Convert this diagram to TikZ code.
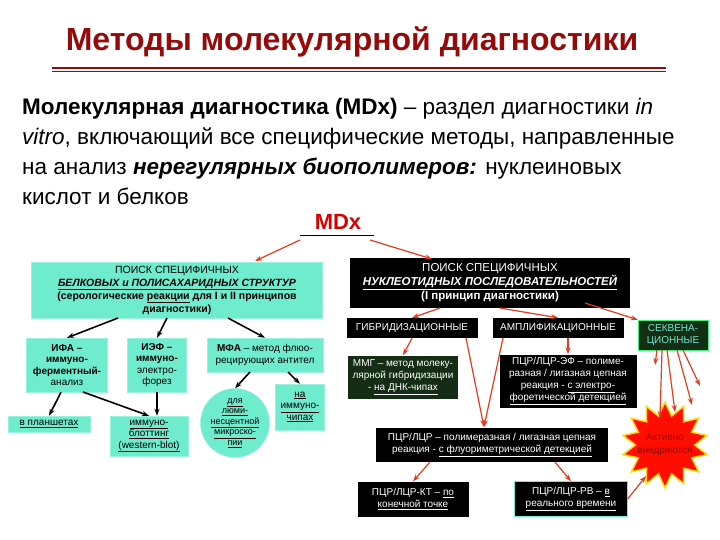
\documentclass[tikz,border=0pt]{standalone}
\usepackage{fontspec}
\setmainfont{Liberation Sans}
\usetikzlibrary{shapes.misc,shapes.geometric,arrows.meta}
\definecolor{aq}{RGB}{110,236,205}
\definecolor{dred}{RGB}{150,10,10}
\definecolor{ared}{RGB}{225,60,30}
\definecolor{dgreen}{RGB}{20,45,20}
\tikzset{
 cy/.style={fill=aq,draw=aq!70!white,align=center,inner sep=1pt,font=\fontsize{10}{11.5}\selectfont},
 bk/.style={fill=black,text=white,align=center,inner sep=1pt,font=\fontsize{10}{12}\selectfont},
 la/.style={-{Stealth[length=7pt,width=5pt]},line width=1.6pt,black},
 ra/.style={-{Stealth[length=7pt,width=5pt]},line width=1.2pt,ared},
}
\newcommand{\ul}[1]{\underline{#1}}
\begin{document}
\begin{tikzpicture}[x=1pt,y=-1pt]
\useasboundingbox[fill=white] (0,0) rectangle (720,540);
\node[font=\bfseries\fontsize{32}{36}\selectfont,text=dred] (title) at (352,42) {Методы молекулярной диагностики};
\draw[dred,line width=1.5pt] (52,68) -- (666,68);
\draw[red!70!black,line width=0.6pt] (52,71) -- (666,71);
\node[anchor=north west,align=left,font=\fontsize{22.5}{30}\selectfont,inner sep=0] (para) at (22,98)
{\textbf{Молекулярная диагностика (MDx)} – раздел диагностики \textit{in}\\
\textit{vitro}, включающий все специфические методы, направленные\\
на анализ \textbf{\textit{нерегулярных биополимеров:}} нуклеиновых\\
кислот и белков};
\node[font=\bfseries\fontsize{22}{24}\selectfont,text=red!85!black] (mdx) at (338,222) {MDx};
\draw[black,line width=1pt] (300,235) -- (374,235);
% left branch
\node[cy,minimum width=291,minimum height=56,font=\fontsize{10.5}{13}\selectfont] (L) at (177,290) {ПОИСК СПЕЦИФИЧНЫХ\\\textbf{\textit{\ul{БЕЛКОВЫХ и ПОЛИСАХАРИДНЫХ СТРУКТУР}}}\\\textbf{(серологические \ul{реакции} для I и II принципов}\\\textbf{диагностики)}};
\node[cy,minimum width=81,minimum height=54] (ifa) at (67,365) {\textbf{ИФА –}\\\textbf{иммуно-}\\\textbf{ферментный-}\\анализ};
\node[cy,minimum width=59,minimum height=54] (ief) at (157,365) {\textbf{ИЭФ –}\\\textbf{иммуно-}\\электро-\\форез};
\node[cy,minimum width=116,minimum height=34] (mfa) at (265,355) {\textbf{МФА} – метод флюо-\\рецирующих антител};
\node[cy,minimum width=82,minimum height=16] (plan) at (49,424) {\ul{в планшетах}};
\node[cy,minimum width=78,minimum height=40] (blot) at (149,436) {\ul{иммуно-}\\\ul{блоттинг}\\\ul{(western-blot)}};
\node[cy,circle,minimum size=66,inner sep=0,font=\fontsize{9}{10.5}\selectfont] (lum) at (235,423) {\ul{для}\\\ul{люми-}\\\ul{несцентной}\\\ul{микроско-}\\\ul{пии}};
\node[cy,minimum width=49,minimum height=46] (chip) at (300,407) {\ul{на}\\\ul{иммуно-}\\\ul{чипах}};
% right branch
\node[bk,minimum width=280,minimum height=50,font=\fontsize{11.5}{14}\selectfont] (R) at (490,283) {ПОИСК СПЕЦИФИЧНЫХ\\\textbf{\textit{\ul{НУКЛЕОТИДНЫХ ПОСЛЕДОВАТЕЛЬНОСТЕЙ}}}\\\textbf{(I принцип диагностики)}};
\node[bk,minimum width=131,minimum height=20] (gib) at (412,328) {ГИБРИДИЗАЦИОННЫЕ};
\node[bk,minimum width=131,minimum height=20] (amp) at (558,328) {АМПЛИФИКАЦИОННЫЕ};
\node[bk,fill=dgreen,draw=aq!60!green,text=aq,minimum width=70,minimum height=30] (seq) at (673,335) {СЕКВЕНА-\\ЦИОННЫЕ};
\node[bk,fill=dgreen,minimum width=110,minimum height=43] (mmg) at (403,377) {ММГ – метод молеку-\\лярной гибридизации\\- \ul{на ДНК-чипах}};
\node[bk,minimum width=137,minimum height=53] (ef) at (568,381) {ПЦР/ЛЦР-ЭФ – полиме-\\разная / лигазная цепная\\реакция - \ul{с электро-}\\\ul{форетической детекцией}};
\node[bk,minimum width=232,minimum height=34] (pcr) at (492,445) {ПЦР/ЛЦР – полимеразная / лигазная цепная\\реакция - \ul{с флуориметрической детекцией}};
\node[bk,minimum width=111,minimum height=35] (kt) at (413,499) {ПЦР/ЛЦР-КТ – \ul{по}\\\ul{конечной точке}};
\node[bk,draw=aq,minimum width=113,minimum height=35] (rv) at (571,499) {ПЦР/ЛЦР-РВ – \ul{в}\\\ul{реального времени}};
\node[star,star points=14,star point ratio=1.45,fill=red!90!orange,draw=yellow!80!orange,line width=1.5pt,minimum size=86,inner sep=0] (act) at (665,445) {};
\node[font=\fontsize{10}{13}\selectfont,align=center,text=dred] (actt) at (665,445) {Активно\\внедряются};
% arrows
\draw[ra] (300,240) -- (255,261);
\draw[ra] (370,240) -- (432,259);
\draw[la] (118,318) -- (ifa.north);
\draw[la] (167,318) -- (ief.north);
\draw[la] (228,318) -- (mfa.north);
\draw[la] (ifa.south) ++(-6,0) -- (plan.north);
\draw[la] (83,392) -- (blot.north);
\draw[la] (ief.south) -- (blot.north-|ief.south);
\draw[la] (250,372) -- (lum.north);
\draw[la] (288,372) -- (chip.north);
\draw[ra] (440,308) -- (gib.north);
\draw[ra] (500,308) -- (amp.north);
\draw[ra] (585,303) -- (seq.north west);
\draw[ra] (gib.south) -- (mmg.north);
\draw[ra] (466,338) -- (484,427);
\draw[ra] (503,338) -- (484,427);
\draw[ra] (568,338) -- (ef.north);
\draw[ra] (430,462) -- (kt.north);
\draw[ra] (555,462) -- (rv.north);
\draw[ra] (rv.east) -- (646,476);
\foreach \a/\b/\c in {657/655/365,662/660/418,667/675/412,677/692/405,683/700/386}
  \draw[ra] (\a,350) -- (\b,\c);
\end{tikzpicture}
\end{document}
